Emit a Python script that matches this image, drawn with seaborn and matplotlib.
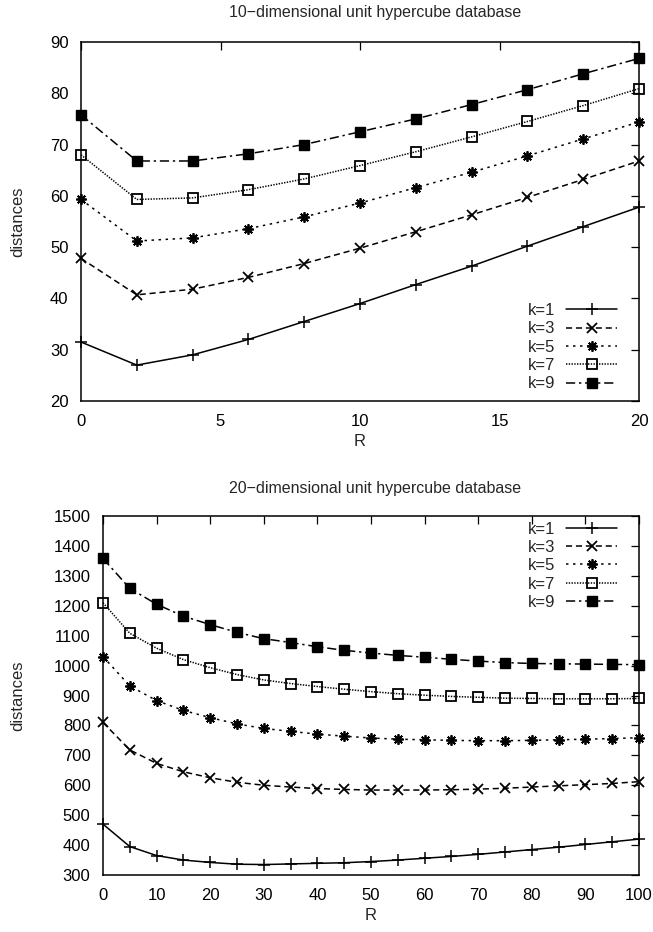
import numpy as np
import pandas as pd
import matplotlib
matplotlib.use("Agg")
import matplotlib.pyplot as plt
import seaborn as sns
from matplotlib.lines import Line2D

sns.set_theme(style="white")
plt.rcParams['font.family'] = ['Liberation Sans', 'DejaVu Sans']

# ---- data: top panel (10-dimensional) ----
R10 = [0, 2, 4, 6, 8, 10, 12, 14, 16, 18, 20]
k1_10 = [31.5, 27.0, 29.0, 32.0, 35.5, 39.0, 42.7, 46.3, 50.2, 54.0, 57.8]
k3_10 = [47.8, 40.7, 41.8, 44.1, 46.8, 49.8, 53.0, 56.3, 59.7, 63.2, 66.8]
k5_10 = [59.3, 51.2, 51.8, 53.6, 55.9, 58.6, 61.6, 64.6, 67.8, 71.1, 74.4]
k7_10 = [68.0, 59.3, 59.6, 61.2, 63.3, 65.9, 68.6, 71.5, 74.5, 77.6, 80.9]
k9_10 = [75.8, 66.8, 66.8, 68.2, 70.0, 72.5, 75.0, 77.8, 80.7, 83.8, 86.8]

# ---- data: bottom panel (20-dimensional) ----
R20 = [0, 5, 10, 15, 20, 25, 30, 35, 40, 45, 50, 55, 60, 65, 70, 75, 80, 85, 90, 95, 100]
k1_20 = [470, 395, 365, 350, 342, 336, 335, 337, 339, 341, 345, 350, 356, 362, 369, 377, 385, 393, 402, 411, 420]
k3_20 = [810, 718, 673, 645, 625, 610, 600, 594, 589, 586, 584, 584, 584, 585, 587, 590, 594, 598, 602, 606, 612]
k5_20 = [1030, 932, 883, 850, 826, 805, 790, 780, 771, 764, 758, 754, 752, 750, 749, 749, 750, 752, 754, 756, 759]
k7_20 = [1210, 1108, 1058, 1020, 993, 970, 952, 940, 930, 921, 913, 906, 901, 897, 894, 891, 890, 889, 889, 889, 890]
k9_20 = [1358, 1258, 1205, 1165, 1137, 1111, 1090, 1077, 1063, 1051, 1042, 1034, 1028, 1021, 1015, 1010, 1007, 1006, 1005, 1004, 1003]

labels = ["k=1", "k=3", "k=5", "k=7", "k=9"]

styles = [
    dict(marker="+", ms=8, mew=1.1, mfc="black", dashes=None),
    dict(marker="x", ms=6.5, mew=1.3, mfc="black", dashes=(4, 2.5)),
    dict(marker=(8, 2, 0), ms=7.5, mew=1.3, mfc="black", dashes=(1.6, 3)),
    dict(marker="s", ms=6.5, mew=1.3, mfc="none", dashes=(0.9, 0.9)),
    dict(marker="s", ms=6.5, mew=1.0, mfc="black", dashes=(6, 2.5, 1.5, 2.5)),
]

FS = 12

fig = plt.figure(figsize=(6.53, 9.32), dpi=100)
ax1 = fig.add_axes([81 / 653, 1 - 401 / 932, 558 / 653, 359 / 932])
ax2 = fig.add_axes([103 / 653, 1 - 875 / 932, 536 / 653, 359 / 932])


def draw(ax, R, series, loc, anchor):
    handles = []
    for lab, y, st in zip(labels, series, styles):
        df = pd.DataFrame({"R": R, "d": y})
        sns.lineplot(data=df, x="R", y="d", ax=ax, color="black", lw=1.1,
                     marker=st["marker"], markersize=st["ms"],
                     markeredgewidth=st["mew"], markerfacecolor=st["mfc"],
                     markeredgecolor="black", legend=False, clip_on=False)
        line = ax.lines[-1]
        h = Line2D([], [], color="black", lw=1.1, marker=st["marker"],
                   markersize=st["ms"], markeredgewidth=st["mew"],
                   markerfacecolor=st["mfc"], markeredgecolor="black")
        for obj in (line, h):
            if st["dashes"] is None:
                obj.set_linestyle("-")
            else:
                obj.set_dashes(st["dashes"])
        handles.append(h)
    ax.legend(handles, labels, loc=loc, bbox_to_anchor=anchor, frameon=False,
              markerfirst=False, handlelength=3.1, handletextpad=0.6,
              labelspacing=0.2, fontsize=FS, borderaxespad=0.0, borderpad=0.1)
    ax.set_xlabel("R", fontsize=FS, labelpad=4)
    ax.set_ylabel("distances", fontsize=FS)
    ax.tick_params(direction="in", length=6, width=0.9, top=True, right=True,
                   labelsize=FS, colors="black")
    ax.tick_params(axis="x", pad=9)
    ax.tick_params(axis="y", pad=9)
    for s in ax.spines.values():
        s.set_color("black")
        s.set_linewidth(1.1)
    ax.grid(False)


draw(ax1, R10, [k1_10, k3_10, k5_10, k7_10, k9_10], "lower right",
     ((619 - 81) / 558, (401 - 393) / 359))
ax1.set_xlim(0, 20)
ax1.set_ylim(20, 90)
ax1.set_xticks([0, 5, 10, 15, 20])
ax1.set_yticks(range(20, 91, 10))
ax1.yaxis.set_label_coords((25 - 81) / 558, 0.5)
fig.text(375 / 653, 1 - 12 / 932, "10\u2212dimensional unit hypercube database",
         fontsize=11.5, ha="center", va="center")

draw(ax2, R20, [k1_20, k3_20, k5_20, k7_20, k9_20], "upper right",
     ((619 - 103) / 536, 1 - (520 - 516) / 359))
ax2.set_xlim(0, 100)
ax2.set_ylim(300, 1500)
ax2.set_xticks(range(0, 101, 10))
ax2.set_yticks(range(300, 1501, 100))
ax2.yaxis.set_label_coords((25 - 103) / 536, 0.5)
fig.text(375 / 653, 1 - 489 / 932, "20\u2212dimensional unit hypercube database",
         fontsize=11.5, ha="center", va="center")

fig.savefig("out.png", dpi=100)
